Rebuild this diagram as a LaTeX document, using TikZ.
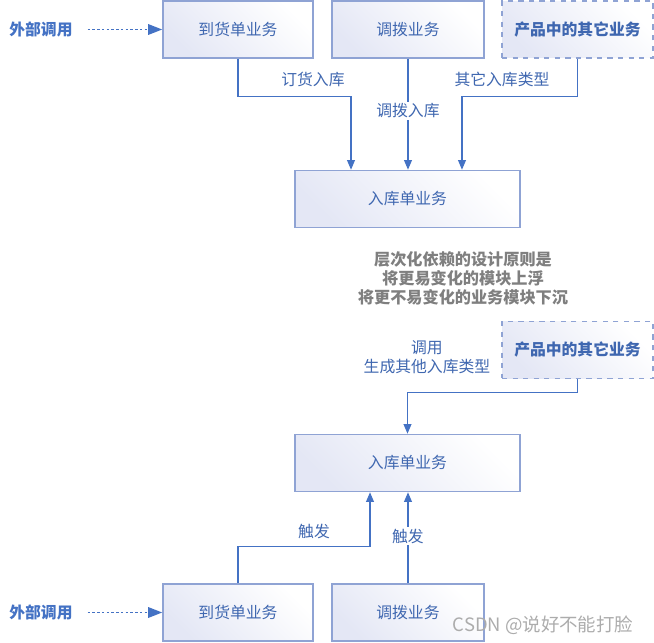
\documentclass[tikz,border=0pt]{standalone}
\usepackage{fontspec}
\setmainfont{Noto Sans CJK SC}
\usetikzlibrary{arrows.meta,positioning}
\definecolor{boxline}{HTML}{8FA3D4}
\definecolor{linkblue}{HTML}{4472C4}
\definecolor{txtblue}{HTML}{3F67B0}
\definecolor{boxfill}{HTML}{E4E7F5}
\definecolor{notegray}{HTML}{7F7F7F}
\tikzset{
  biz/.style={draw=boxline, line width=0.9pt, bottom color=boxfill, top color=white, shading angle=-45,
    text=txtblue, font=\fontsize{9}{11}\selectfont, minimum width=3cm, minimum height=1.14cm, inner sep=0pt},
  other/.style={biz, dashed, font=\bfseries\fontsize{9}{11}\selectfont},
  caller/.style={text=linkblue, font=\bfseries\fontsize{9}{11}\selectfont},
  link/.style={draw=linkblue, line width=0.6pt, -{Triangle[length=5.5pt,width=4.5pt]}},
  calls/.style={draw=linkblue, line width=0.9pt, dash pattern=on 1.5pt off 1.2pt, shorten <=5pt,
    -{Triangle[length=8pt,width=6pt]}},
  lbl/.style={text=txtblue, fill=white, inner sep=1pt, font=\fontsize{9}{11}\selectfont, align=center},
}
\begin{document}
\begin{tikzpicture}[x=0.02cm, y=-0.02cm]
    \useasboundingbox (0,0) rectangle (654,643);

    \node[biz] (arr1) at (238,29.5) {到货单业务};
    \node[biz, minimum width=3.04cm] (trf1) at (408,29.5) {调拨业务};
    \node[other, minimum width=3.02cm] (oth1) at (577.5,29.5) {产品中的其它业务};
    \node[caller] (ext1) at (41,29.5) {外部调用};
    \node[biz, minimum width=4.5cm] (in1) at (407.5,199) {入库单业务};

    \draw[calls] (ext1.east) -- (arr1.west);
    \draw[link] (arr1.south) -- ++(0,38) -| ([xshift=-1.13cm]in1.north);
    \draw[link] (trf1.south) -- (trf1.south |- in1.north);
    \draw[link] (oth1.south) -- ++(0,38) -| ([xshift=1.09cm]in1.north);
    \node[lbl] (l1) at (313,79) {订货入库};
    \node[lbl] (l2) at (408,111) {调拨入库};
    \node[lbl] (l3) at (502,79) {其它入库类型};

    \node[text=notegray, align=center, font=\bfseries\fontsize{9.2}{10.8}\selectfont] (rule) at (463,278)
        {层次化依赖的设计原则是\\将更易变化的模块上浮\\将更不易变化的业务模块下沉};

    \node[other, minimum width=3.02cm] (oth2) at (577.5,350) {产品中的其它业务};
    \node[biz, minimum width=4.5cm] (in2) at (407.5,463) {入库单业务};
    \node[biz] (arr2) at (238,612.5) {到货单业务};
    \node[biz, minimum width=3.04cm] (trf2) at (408,612.5) {调拨业务};
    \node[caller] (ext2) at (41,612.5) {外部调用};

    \draw[link] (oth2.south) -- ++(0,13) -| (in2.north);
    \draw[calls] (ext2.east) -- (arr2.west);
    \draw[link] (arr2.north) -- ++(0,-37) -| ([xshift=-0.75cm]in2.south);
    \draw[link] (trf2.north) -- (trf2.north |- in2.south);
    \node[lbl] (l4) at (427,357) {调用\\生成其他入库类型};
    \node[lbl] (l5) at (314,531) {触发};
    \node[lbl] (l6) at (408,536) {触发};

    \node[text=gray!65, font=\fontsize{10.5}{12}\selectfont] (mark) at (543,625) {CSDN @说好不能打脸};
\end{tikzpicture}
\end{document}
